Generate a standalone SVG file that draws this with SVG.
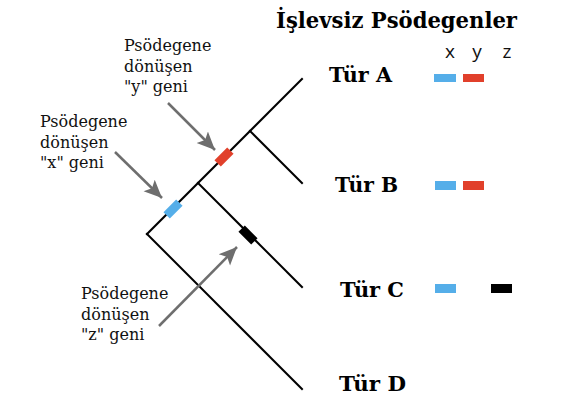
<svg xmlns="http://www.w3.org/2000/svg" width="573" height="408" viewBox="0 0 573 408">
<defs>
<style>
.br{stroke:#000;stroke-width:2;fill:none;stroke-linecap:square}
.ar{stroke:#6e6e6e;stroke-width:2.5;fill:none}
.lbl{font-family:"DejaVu Serif","Liberation Serif",serif;font-size:16px;fill:#111}
.tur{font-family:"DejaVu Serif","Liberation Serif",serif;font-size:20.5px;font-weight:bold;fill:#000}
.ttl{font-family:"DejaVu Serif","Liberation Serif",serif;font-size:22px;font-weight:bold;fill:#000}
.gl{font-family:"Open Sans","DejaVu Sans",sans-serif;font-size:19px;fill:#111}
.blue{fill:#55aee9}
.red{fill:#e1402b}
.blk{fill:#000}
</style>
<marker id="ah" markerUnits="userSpaceOnUse" markerWidth="20" markerHeight="18" refX="18" refY="8" orient="auto" viewBox="0 0 20 16">
<path d="M0,0 L18,8 L0,16 L4,8 z" fill="#6e6e6e"/>
</marker>
</defs>
<rect width="573" height="408" fill="#fff"/>
<g id="connectors">
<line class="br" x1="147" y1="234" x2="302" y2="79"/>
<line class="br" x1="147" y1="234" x2="302" y2="389"/>
<line class="br" x1="198" y1="183" x2="302" y2="287"/>
<line class="br" x1="250" y1="131" x2="302" y2="183"/>
<line class="ar" x1="168" y1="103" x2="215" y2="150" marker-end="url(#ah)"/>
<line class="ar" x1="115" y1="152" x2="162" y2="198" marker-end="url(#ah)"/>
<line class="ar" x1="159" y1="326" x2="237" y2="247" marker-end="url(#ah)"/>
</g>
<g id="mark-y"><rect class="red" x="-9" y="-4.5" width="18" height="9" transform="translate(224,157) rotate(-45)"/></g>
<g id="mark-x"><rect class="blue" x="-9" y="-4.5" width="18" height="9" transform="translate(173,209) rotate(-45)"/></g>
<g id="mark-z"><rect class="blk" x="-9" y="-4.5" width="18" height="9" transform="translate(248,235) rotate(45)"/></g>
<g id="title"><text class="ttl" x="276" y="28" textLength="241" lengthAdjust="spacingAndGlyphs">İşlevsiz Psödegenler</text></g>
<g id="legend-head">
<text class="gl" x="450" y="58" text-anchor="middle">x</text>
<text class="gl" x="477" y="58" text-anchor="middle">y</text>
<text class="gl" x="507" y="58" text-anchor="middle">z</text>
</g>
<g id="label-y"><text class="lbl"><tspan x="124" y="51">Psödegene</tspan><tspan x="124" y="72">dönüşen</tspan><tspan x="124" y="92">"y" geni</tspan></text></g>
<g id="label-x"><text class="lbl"><tspan x="40" y="127">Psödegene</tspan><tspan x="40" y="148">dönüşen</tspan><tspan x="40" y="168">"x" geni</tspan></text></g>
<g id="label-z"><text class="lbl"><tspan x="81" y="299">Psödegene</tspan><tspan x="81" y="320">dönüşen</tspan><tspan x="81" y="340">"z" geni</tspan></text></g>
<g id="tur-a"><text class="tur" x="329" y="82" textLength="63" lengthAdjust="spacingAndGlyphs">Tür A</text>
<rect class="blue" x="434" y="74" width="22" height="8"/><rect class="red" x="463" y="74" width="21" height="8"/></g>
<g id="tur-b"><text class="tur" x="335" y="192" textLength="63" lengthAdjust="spacingAndGlyphs">Tür B</text>
<rect class="blue" x="435" y="181" width="21" height="9"/><rect class="red" x="463" y="181" width="21" height="9"/></g>
<g id="tur-c"><text class="tur" x="340" y="297" textLength="64" lengthAdjust="spacingAndGlyphs">Tür C</text>
<rect class="blue" x="435" y="284" width="21" height="9"/><rect class="blk" x="491" y="284" width="21" height="9"/></g>
<g id="tur-d"><text class="tur" x="339" y="391" textLength="67" lengthAdjust="spacingAndGlyphs">Tür D</text></g>
</svg>
